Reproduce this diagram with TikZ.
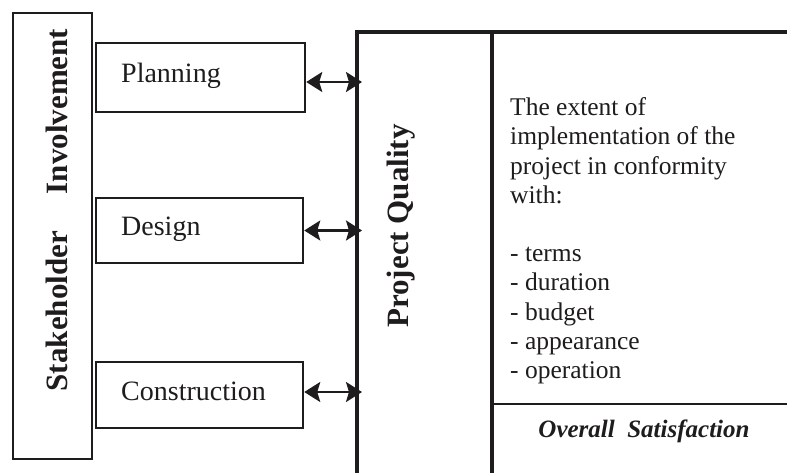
\documentclass[tikz,border=0pt]{standalone}
\usepackage{fontspec}
\setmainfont{Liberation Serif}
\usetikzlibrary{arrows.meta}
\definecolor{ink}{HTML}{1E1C1C}
\begin{document}
\begin{tikzpicture}[x=1pt,y=-1pt,
  every node/.style={text=ink},
  phasebox/.style={draw=ink, line width=2.5pt, inner sep=0pt},
  phaselabel/.style={inner sep=0pt, anchor=base west, font=\fontsize{28}{34}\selectfont},
  sidelabel/.style={inner sep=0pt, anchor=base, rotate=90, font=\fontsize{31}{36}\selectfont\bfseries},
  biarrow/.style={draw=ink, line width=2.2pt,
    {Stealth[length=16pt,width=20pt,inset=3pt]}-{Stealth[length=16pt,width=20pt,inset=3pt]}},
  bodytext/.style={inner sep=0pt, anchor=north west, align=left, font=\fontsize{25.5}{29.2}\selectfont}]
\useasboundingbox (0,0) rectangle (787,472);
\clip (0,0) rectangle (787,472);

% stakeholder column
\node[phasebox, minimum width=79pt, minimum height=446pt] (stake) at (52.5,236) {};
\node[sidelabel] (stakeT) at (67,210) {Stakeholder\hspace{37pt}Involvement};

% project phases
\node[phasebox, minimum width=209pt, minimum height=69pt] (plan) at (200.5,77.5) {};
\node[phasebox, minimum width=207pt, minimum height=65pt] (des) at (199.5,230.5) {};
\node[phasebox, minimum width=207pt, minimum height=66pt] (cons) at (199.5,395) {};
\node[phaselabel] (planT) at (121,82) {Planning};
\node[phaselabel] (desT) at (121,235) {Design};
\node[phaselabel] (consT) at (121,400) {Construction};

% project quality frame (runs past the right and bottom edges)
\node[draw=ink, line width=4pt, inner sep=0pt, minimum width=480pt, minimum height=480pt] (pq) at (597,272) {};
\draw[ink, line width=4pt] (492,32) -- (492,480);
\draw[ink, line width=2.5pt] (492,404) -- (800,404);
\node[sidelabel] (pqT) at (408,226) {Project Quality};

% content of the quality column
\node[bodytext] (ext) at (510,97.6) {The extent of\\implementation of the\\project in conformity\\with:\\[29.2pt]- terms\\- duration\\- budget\\- appearance\\- operation};
\node[inner sep=0pt, anchor=base, font=\fontsize{25}{30}\selectfont\bfseries\itshape] (sat) at (644,437) {Overall~~Satisfaction};

% links between phases and quality; tips reach into the frame line
\draw[biarrow] ([yshift=-4.5pt]plan.east) -- ([xshift=7pt,yshift=-4.5pt]plan.east -| pq.west);
\draw[biarrow] (des.east) -- ([xshift=7pt]des.east -| pq.west);
\draw[biarrow] ([yshift=3pt]cons.east) -- ([xshift=7pt,yshift=3pt]cons.east -| pq.west);
\end{tikzpicture}
\end{document}
